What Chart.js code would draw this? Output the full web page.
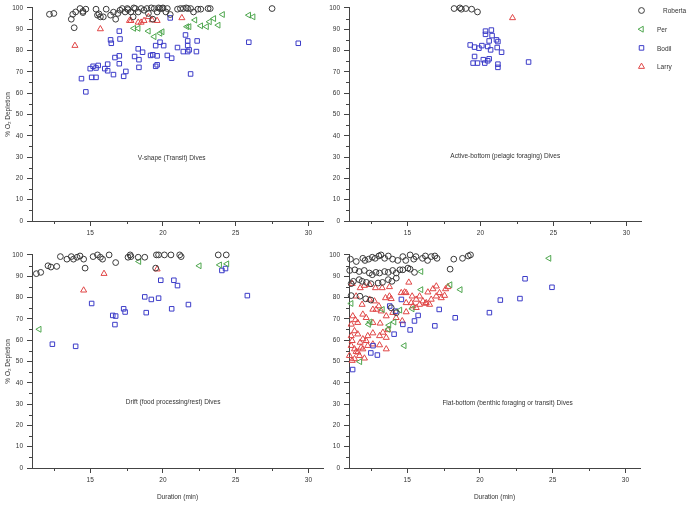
<!DOCTYPE html>
<html lang="en">
<head>
<meta charset="UTF-8">
<title>% O2 Depletion by dive type</title>
<script src="https://cdn.jsdelivr.net/npm/chart.js"></script>
<style>
    body { margin: 0; background: #fff; }
    .wrap { position: relative; width: 689px; height: 509px; }
    .wrap canvas { position: absolute; }
</style>
</head>
<body>
<div class="wrap">
    <canvas id="vShape" width="340" height="250" style="left:0px;top:0px"></canvas>
    <canvas id="active" width="372" height="250" style="left:317px;top:0px"></canvas>
    <canvas id="drift" width="340" height="262" style="left:0px;top:247px"></canvas>
    <canvas id="flat" width="340" height="262" style="left:317px;top:247px"></canvas>
</div>
<script>
// series
const seriesNames = ['Roberta', 'Per', 'Bodil', 'Larry'];
const seriesColors = ['#3a3a3a', '#4ea64e', '#3c3cc8', '#e04646'];
const seriesShapes = ['circle', 'triangle', 'rect', 'triangle'];

// axes
const xTicks = [15, 20, 25, 30];
const xMinor = [12.5, 17.5, 22.5, 27.5];
const yTicks = [0, 10, 20, 30, 40, 50, 60, 70, 80, 90, 100];
const yMinor = [5, 15, 25, 35, 45, 55, 65, 75, 85, 95];

// V-shape (Transit) dives  [duration min, % O2 depletion]
const vRoberta = [[12.2,97.0],[12.5,97.4],[13.7,94.7],[13.9,90.7],[13.8,97.0],[14.0,98.1],[14.3,99.7],[14.5,98.4],[14.7,99.4],[14.5,97.8],
    [15.4,99.4],[15.5,96.6],[15.7,95.8],[15.9,95.8],[16.1,99.4],[16.4,96.6],[16.75,94.7],[16.9,97.4],[17.05,98.9],[17.2,99.7],
    [17.4,98.1],[17.55,99.7],[17.8,98.1],[17.95,95.8],[18.1,99.7],[18.3,98.1],[18.5,99.7],[18.7,98.9],[18.9,99.7],[19.0,97.4],
    [19.3,94.7],[19.4,99.7],[19.6,98.1],[19.8,99.7],[19.95,99.7],[20.2,98.1],[20.3,99.7],[20.5,96.9],[21.0,99.4],[21.2,99.7],
    [21.4,99.7],[21.7,99.7],[21.9,99.7],[22.1,98.1],[22.4,99.4],[22.6,99.4],[23.1,99.7],[23.25,99.7],[27.5,99.7],
    [17.6,99.2],[18.0,100],[19.2,100],[19.7,100],[20.0,100],[21.6,100],[16.6,98.0],[15.6,97.2]];
const vPer = [[18.0,90.4],[18.3,90.4],[19.0,89.1],[19.4,86.5],[19.8,88.1],[19.95,88.8],[21.65,91.2],[21.8,91.2],[22.2,94.3],
    [22.6,91.6],[23.0,91.2],[23.2,93.5],[23.5,95.0],[23.8,91.9],[24.1,96.9],[25.9,96.6],[26.2,95.8]];
const vBodil = [[14.4,66.8],[14.7,60.6],[15.0,71.5],[15.2,72.6],[15.1,67.4],[15.4,67.4],[15.4,71.8],[15.55,73.0],[16.0,71.5],[16.2,73.6],
    [16.2,70.5],[16.4,85.0],[16.45,83.4],[16.6,68.7],[16.7,76.7],[17.0,89.1],[17.05,85.4],[17.0,77.5],[17.0,73.8],[17.3,67.9],
    [17.45,70.2],[18.05,77.2],[18.3,80.8],[18.35,75.7],[18.35,72.1],[18.6,79.2],[19.15,77.7],[19.3,78.0],[19.5,82.3],[19.5,72.6],
    [19.6,77.5],[19.6,73.3],[19.8,83.9],[20.05,82.3],[20.3,77.7],[20.5,95.3],[20.6,76.4],[21.0,81.4],[21.4,79.5],[21.55,87.3],
    [21.7,84.5],[21.7,82.3],[21.7,79.5],[21.8,80.3],[21.9,69.0],[22.3,79.5],[22.35,84.5],[25.9,83.9],[29.3,83.4]];
const vLarry = [[13.95,82.3],[15.7,90.1],[17.7,94.0],[17.8,94.0],[18.3,93.2],[18.5,93.2],[18.7,94.0],[19.0,95.8],[19.25,94.3],[19.6,94.0],[21.3,95.3]];

// Active-bottom (pelagic foraging) dives
const aRoberta = [[18.2,99.7],[18.6,100],[18.7,99.4],[19.0,99.7],[19.4,99.4],[19.8,98.1]];
const aPer = [];
const aBodil = [[19.3,82.6],[19.6,81.6],[19.9,81.1],[20.1,82.3],[20.35,89.1],[20.35,87.6],[20.5,81.9],[20.6,84.5],[20.7,80.3],[20.75,89.6],
    [20.8,87.0],[21.1,85.0],[21.2,84.2],[21.15,81.4],[21.45,79.2],[19.6,77.2],[19.5,74.1],[19.8,74.1],[20.2,75.7],[20.3,74.1],
    [20.5,75.2],[20.6,76.1],[21.2,73.6],[21.2,72.1],[23.3,74.6]];
const aLarry = [[22.2,95.3]];

// Drift (food processing/rest) dives
const dRoberta = [[11.3,91.2],[11.6,91.8],[12.1,94.9],[12.3,94.3],[12.7,94.6],[12.95,99.2],[13.4,98.0],[13.7,99.2],[13.85,98.0],[14.1,98.9],
    [14.3,99.5],[14.55,98.0],[14.65,93.8],[15.2,99.2],[15.5,100],[15.7,98.9],[15.85,98.0],[16.3,100],[16.75,96.4],[17.6,98.9],
    [17.75,100],[17.8,99.2],[18.3,98.9],[18.75,98.9],[19.5,93.8],[19.55,100],[19.7,100],[20.1,100],[20.55,100],[21.15,100],
    [21.25,99.2],[23.8,100],[24.35,100]];
const dPer = [[11.5,65.1],[18.35,96.9],[22.5,94.9],[23.9,95.3],[24.4,95.8]];
const dBodil = [[12.4,58.1],[14.0,57.1],[15.1,77.2],[16.55,71.6],[16.75,71.3],[16.7,67.3],[17.3,74.7],[17.4,73.2],[18.75,80.3],[18.85,72.9],
    [19.2,79.1],[19.7,79.7],[19.85,88.1],[20.6,74.7],[20.75,88.1],[21.0,85.6],[21.75,76.7],[24.05,92.7],[24.3,93.6],[25.8,80.9]];
const dLarry = [[14.55,83.4],[15.95,91.2],[19.6,93.3]];

// Flat-bottom (benthic foraging or transit) dives
const fRoberta = [[11.1,98.0],[11.5,96.9],[11.95,98.4],[12.1,97.4],[12.35,98.0],[12.6,98.9],[12.8,98.4],[13.05,99.5],[13.2,100],[13.45,98.4],
    [13.7,99.5],[14.0,98.0],[14.35,97.4],[14.7,99.2],[14.9,97.4],[15.2,100],[15.45,98.0],[15.6,99.2],[16.05,98.4],[16.25,99.5],
    [16.4,97.4],[16.65,99.2],[16.9,99.5],[17.05,98.4],[18.2,98.0],[18.8,98.4],[19.2,99.5],[19.35,100],
    [11.05,92.7],[11.4,93.0],[11.7,92.2],[12.05,92.7],[12.4,91.5],[12.6,90.7],[12.85,91.8],[13.1,91.5],[13.45,92.2],[13.7,91.8],
    [14.0,92.7],[14.25,91.5],[14.5,93.0],[14.7,93.0],[15.05,93.8],[15.2,93.3],[15.5,91.8],[17.95,93.3],
    [11.15,86.5],[11.3,87.6],[11.7,88.4],[11.9,87.6],[12.2,87.1],[12.5,86.5],[13.0,86.8],[13.3,87.1],[13.7,88.4],[13.95,87.6],
    [14.25,89.1],[11.15,80.9],[11.75,80.6],[12.15,79.4],[12.5,78.8],[13.9,75.2],[14.25,72.9]];
const fPer = [[11.15,77.2],[15.95,92.2],[13.3,74.4],[14.5,74.1],[15.35,74.7],[15.95,83.7],[17.95,86.0],[18.65,83.7],[24.75,98.4],
    [12.35,67.4],[12.45,68.5],[13.75,67.0],[13.7,65.1],[14.1,68.5],[14.8,57.4],[11.75,49.9]];
const fBodil = [[11.25,46.2],[12.5,54.0],[12.95,53.0],[12.65,57.4],[14.1,62.8],[13.8,76.0],[14.2,73.6],[14.6,79.1],[14.7,67.4],[15.2,64.8],
    [15.5,69.0],[15.75,71.6],[16.9,66.7],[17.2,74.4],[18.3,70.5],[20.65,72.9],[21.4,78.8],[22.75,79.5],[23.1,88.8],[24.95,84.8]];
const fLarry = [[11.22,86.5],[11.77,84.5],[12.06,85.6],[12.41,86.0],[12.82,84.5],[13.28,84.5],[13.78,85.0],[15.11,87.1],[14.82,82.5],[15.34,80.6],
    [15.85,80.6],[16.42,82.5],[16.77,84.0],[17.0,85.3],[17.22,82.2],[17.64,84.0],[17.8,85.0],[17.57,80.9],[11.49,80.6],[11.9,76.7],
    [12.41,79.1],[12.75,78.3],[13.05,76.0],[13.51,79.8],[13.78,80.6],[13.9,79.4],[14.93,77.5],[15.28,77.5],[15.62,79.1],[16.08,78.3],
    [16.31,77.5],[16.65,79.1],[17.0,80.6],[17.34,79.8],[15.85,76.7],[16.26,77.2],[16.54,76.7],[14.93,82.2],[14.59,82.2],[11.26,71.3],
    [11.44,69.5],[11.95,72.1],[12.64,74.4],[12.87,74.4],[13.21,73.6],[13.56,71.3],[14.01,72.9],[14.24,70.5],[14.66,69.0],[14.93,73.2],
    [15.39,76.0],[15.62,75.2],[11.15,67.4],[11.6,68.2],[12.18,70.5],[12.64,68.2],[13.14,67.9],[11.15,62.0],[11.38,64.3],[11.6,62.8],
    [11.95,60.5],[12.29,62.0],[12.64,63.3],[13.1,62.0],[13.33,63.6],[13.56,61.2],[13.67,64.8],[11.22,59.7],[11.77,58.9],[12.18,59.7],
    [11.15,57.4],[11.38,55.8],[11.6,54.3],[11.95,55.8],[12.29,57.4],[12.64,58.1],[13.1,57.7],[13.56,55.8],[11.03,52.7],[11.38,51.2],
    [11.72,52.7],[12.06,51.5],[11.22,50.4],[11.49,54.6],[11.83,56.6]];

const axisColor = '#444';
const textColor = '#333';
const fontFamily = "'Liberation Sans', Arial, sans-serif";

Chart.defaults.font.family = fontFamily;
Chart.defaults.font.size = 6.5;
Chart.defaults.color = textColor;

// 작은 눈금 (minor ticks)
const minorTicks = {
    id: 'minorTicks',
    afterDraw(chart) {
        const ctx = chart.ctx;
        const x = chart.scales.x, y = chart.scales.y;
        ctx.save();
        ctx.strokeStyle = axisColor;
        ctx.lineWidth = 1;
        ctx.beginPath();
        xMinor.forEach(function (v) {
            const px = Math.round(x.getPixelForValue(v)) + 0.5;
            ctx.moveTo(px, x.top);
            ctx.lineTo(px, x.top + 3);
        });
        yMinor.forEach(function (v) {
            const py = Math.round(y.getPixelForValue(v)) + 0.5;
            ctx.moveTo(y.right, py);
            ctx.lineTo(y.right - 3, py);
        });
        ctx.stroke();
        ctx.restore();
    }
};

// panel label inside plot
const panelLabel = {
    id: 'panelLabel',
    afterDraw(chart, args, opts) {
        if (!opts.text) return;
        const ctx = chart.ctx;
        ctx.save();
        ctx.font = '6.5px ' + fontFamily;
        ctx.fillStyle = textColor;
        ctx.textAlign = 'center';
        ctx.textBaseline = 'middle';
        ctx.fillText(opts.text, chart.scales.x.getPixelForValue(opts.at[0]), chart.scales.y.getPixelForValue(opts.at[1]));
        ctx.restore();
    }
};

// legend to the right of the top-right panel
const sideLegend = {
    id: 'sideLegend',
    afterDraw(chart, args, opts) {
        if (!opts.display) return;
        const ctx = chart.ctx;
        const x0 = chart.chartArea.right;
        ctx.save();
        chart.data.datasets.forEach(function (ds, i) {
            const cy = 10.5 + i * 18.7;
            ctx.strokeStyle = ds.pointBorderColor;
            ctx.fillStyle = 'rgba(0,0,0,0)';
            ctx.lineWidth = 1;
            Chart.helpers.drawPoint(ctx, {pointStyle: ds.pointStyle, rotation: ds.pointRotation, radius: ds.pointRadius, borderWidth: 1}, x0 + 0.5, cy);
            ctx.font = '6.5px ' + fontFamily;
            ctx.fillStyle = textColor;
            ctx.textAlign = 'left';
            ctx.textBaseline = 'middle';
            ctx.fillText(ds.label, x0 + (i === 0 ? 22 : 16), cy + 1);
        });
        ctx.restore();
    }
};

function makeDatasets(list) {
    const radius = [2.9, 3.4, 3.2, 3.5];
    const rotation = [0, 270, 0, 0];
    return seriesNames.map(function (name, i) {
        return {
            label: name,
            data: list[i].map(function (p) { return {x: p[0], y: p[1]}; }),
            pointStyle: seriesShapes[i],
            pointRotation: rotation[i],
            pointRadius: radius[i],
            pointBorderWidth: 1,
            pointBorderColor: seriesColors[i],
            pointBackgroundColor: 'rgba(0,0,0,0)',
            clip: false
        };
    });
}

function drawPanel(id, list, label, labelAt, opt) {
    new Chart(document.getElementById(id), {
        type: 'scatter',
        data: { datasets: makeDatasets(list) },
        options: {
            responsive: false,
            animation: false,
            events: [],
            layout: { padding: { top: 6, right: opt.right, left: 0, bottom: 0 } },
            scales: {
                x: {
                    type: 'linear', min: 11, max: 31,
                    afterBuildTicks: function (s) { s.ticks = xTicks.map(function (v) { return {value: v}; }); },
                    afterFit: function (s) { s.height = opt.xHeight; },
                    grid: { drawOnChartArea: false, drawTicks: true, tickLength: 5, color: axisColor },
                    border: { display: true, color: axisColor },
                    ticks: { padding: 3, maxRotation: 0, color: textColor },
                    title: { display: opt.xTitle, text: 'Duration (min)', padding: { top: 0, bottom: 8 }, color: textColor }
                },
                y: {
                    type: 'linear', min: 0, max: 100,
                    afterBuildTicks: function (s) { s.ticks = yTicks.map(function (v) { return {value: v}; }); },
                    afterFit: function (s) { s.width = 32; },
                    grid: { drawOnChartArea: false, drawTicks: true, tickLength: 5, color: axisColor },
                    border: { display: true, color: axisColor },
                    ticks: { padding: 4, color: textColor },
                    title: { display: opt.yTitle, text: '% O\u2082 Depletion', padding: { top: 4, bottom: 0 }, color: textColor }
                }
            },
            plugins: {
                legend: { display: false },
                tooltip: { enabled: false },
                panelLabel: { text: label, at: labelAt },
                sideLegend: { display: !!opt.legend }
            }
        },
        plugins: [minorTicks, panelLabel, sideLegend]
    });
}

drawPanel('vShape', [vRoberta, vPer, vBodil, vLarry], 'V-shape (Transit) Dives', [20.6, 29.5],
    { right: 17, xHeight: 29, xTitle: false, yTitle: true });
drawPanel('active', [aRoberta, aPer, aBodil, aLarry], 'Active-bottom (pelagic foraging) Dives', [21.7, 30.5],
    { right: 48, xHeight: 29, xTitle: false, yTitle: false, legend: true });
drawPanel('drift', [dRoberta, dPer, dBodil, dLarry], 'Drift (food processing/rest) Dives', [20.7, 31],
    { right: 17, xHeight: 41, xTitle: true, yTitle: true });
drawPanel('flat', [fRoberta, fPer, fBodil, fLarry], 'Flat-bottom (benthic foraging or transit) Dives', [21.9, 30.5],
    { right: 17, xHeight: 41, xTitle: true, yTitle: false });
</script>
</body>
</html>
